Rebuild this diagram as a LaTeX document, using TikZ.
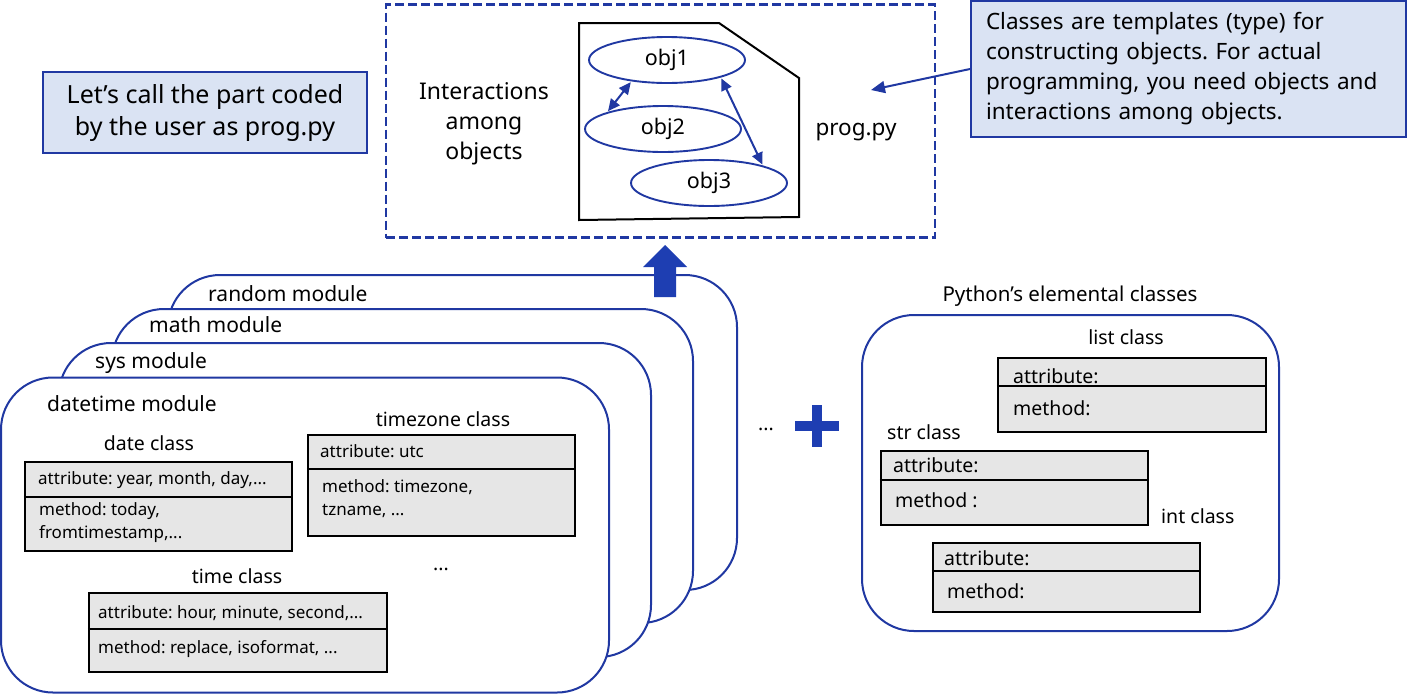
\documentclass[tikz,border=0pt]{standalone}
\usepackage{fontspec}
\setmainfont{Noto Sans}
\usepackage{tikz}
\usetikzlibrary{positioning, shapes, arrows.meta}
\frenchspacing

\definecolor{edgeblue}{RGB}{32,56,162}
\definecolor{fillblue}{RGB}{30,62,178}
\definecolor{noteblue}{RGB}{218,227,243}
\definecolor{classgray}{RGB}{230,230,230}

\begin{document}
\begin{tikzpicture}[x=1pt, y=-1pt, every node/.style={inner sep=0pt},
    modbox/.style={draw=edgeblue, line width=2pt, fill=white, rounded corners=52pt},
    classbox/.style={draw=black, line width=2.5pt, fill=classgray},
    divline/.style={draw=black, line width=1.2pt},
    notebox/.style={draw=edgeblue, line width=2pt, fill=noteblue},
    objnode/.style={draw=edgeblue, line width=1.9pt, ellipse, minimum width=156pt, minimum height=46pt, font=\fontsize{21.5}{25}\selectfont},
    objlink/.style={{Triangle[length=12pt,width=11pt]}-{Triangle[length=12pt,width=11pt]}, draw=edgeblue, fill=edgeblue, line width=2pt, shorten <=1pt, shorten >=1pt},
    modlabel/.style={anchor=base west, font=\fontsize{21}{25}\selectfont},
    clstitle/.style={anchor=base, font=\fontsize{19.5}{23}\selectfont},
    clstext/.style={anchor=base west, font=\fontsize{17}{23}\selectfont},
    elemtext/.style={anchor=base west, font=\fontsize{19.5}{23}\selectfont}]
        \useasboundingbox (0,0) rectangle (1407,694);

        % Top: user program
        \node (Prog) [draw=edgeblue, dashed, dash pattern=on 9pt off 4pt, line width=2.6pt, minimum width=549pt, minimum height=233pt] at (660.5,121) {};
        \draw[black, line width=2pt] (579,23) -- (719,23) -- (799,78) -- (799,217) -- (579,220) -- cycle;
        \node (Inter) [align=center, font=\fontsize{23}{30}\selectfont] at (484,124) {Interactions\\among\\objects};
        \node (Obj1) [objnode] at (667,60) {obj1};
        \node (Obj2) [objnode] at (663,129) {obj2};
        \node (Obj3) [objnode] at (709,183) {obj3};
        \node (ProgName) [anchor=base, font=\fontsize{22.5}{27}\selectfont] at (856,135) {prog.py};
        \draw[objlink] (Obj1.211) -- (Obj2.163);
        \draw[objlink] (Obj1.342) -- (Obj3.18);

        % Notes
        \node (UserNote) [notebox, minimum width=324pt, minimum height=81pt, align=center, font=\fontsize{25}{32}\selectfont] at (205,112.5) {Let’s call the part coded\\by the user as prog.py};
        \node (ClassNote) [notebox, minimum width=435pt, minimum height=136pt, text width=405pt, inner xsep=15pt, align=left, font=\fontsize{22.5}{30}\selectfont] at (1188.5,69) {Classes are templates (type) for\\constructing objects. For actual\\programming, you need objects and\\interactions among objects.};
        \coordinate (NoteEnd) at (871,90);
        \draw[-{Triangle[length=14pt,width=12pt]}, edgeblue, line width=2pt] (ClassNote.west) -- (NoteEnd);

        % Modules (back to front)
        \node (Random) [modbox, minimum width=569pt, minimum height=315pt] at (452.5,432.5) {};
        \node [modlabel] at (208,301) {random module};
        \fill[fillblue] (654,297) -- (654,267) -- (643,267) -- (665,245) -- (687,267) -- (676,267) -- (676,297) -- cycle;
        \node (Math) [modbox, minimum width=581pt, minimum height=314pt] at (402.5,466) {};
        \node [modlabel] at (149,332) {math module};
        \node (Sys) [modbox, minimum width=592pt, minimum height=314pt] at (355,500) {};
        \node [modlabel] at (95,368) {sys module};
        \node (Datetime) [modbox, minimum width=608pt, minimum height=315pt] at (305,535) {};
        \node [modlabel] at (47,411) {datetime module};

        % datetime classes
        \node [clstitle] at (149,450) {date class};
        \node (DateBox) [classbox, minimum width=267pt, minimum height=89pt] at (158.5,506.5) {};
        \draw[divline] (DateBox.west |- 0,497) -- (DateBox.east |- 0,497);
        \node [clstext] at (38,484) {attribute: year, month, day,...};
        \node [clstext] at (39,515) {method: today,};
        \node [clstext] at (39,538) {fromtimestamp,...};

        \node [clstitle] at (443,426) {timezone class};
        \node (TzBox) [classbox, minimum width=267pt, minimum height=101pt] at (441.5,485.5) {};
        \draw[divline] (TzBox.west |- 0,469) -- (TzBox.east |- 0,469);
        \node [clstext] at (320,457) {attribute: utc};
        \node [clstext] at (322,492) {method: timezone,};
        \node [clstext] at (322,515) {tzname, ...};

        \node [clstitle] at (237,583) {time class};
        \node (TimeBox) [classbox, minimum width=298pt, minimum height=79pt] at (238,632.5) {};
        \draw[divline] (TimeBox.west |- 0,629) -- (TimeBox.east |- 0,629);
        \node [clstext] at (98,618) {attribute: hour, minute, second,...};
        \node [clstext] at (98,653) {method: replace, isoformat, ...};
        \node [clstitle] at (441,570) {...};

        % Plus
        \node [clstitle] at (766,430) {...};
        \fill[fillblue] (812,405) rectangle (822,447);
        \fill[fillblue] (795,421) rectangle (839,431);

        % Python's elemental classes
        \node [anchor=base, font=\fontsize{20.5}{25}\selectfont] at (1070,301) {Python’s elemental classes};
        \node (Elem) [modbox, minimum width=417pt, minimum height=316pt] at (1070.5,473) {};

        \node [clstitle] at (1126,344) {list class};
        \node (ListBox) [classbox, minimum width=268pt, minimum height=74pt] at (1132,395) {};
        \draw[divline] (ListBox.west |- 0,386) -- (ListBox.east |- 0,386);
        \node [elemtext] at (1013,383) {attribute:};
        \node [elemtext] at (1013,415) {method:};

        \node [clstitle, anchor=base west] at (887,439) {str class};
        \node (StrBox) [classbox, minimum width=267pt, minimum height=74pt] at (1014.5,488) {};
        \draw[divline] (StrBox.west |- 0,480) -- (StrBox.east |- 0,480);
        \node [elemtext] at (893,472) {attribute:};
        \node [elemtext] at (895,507) {method :};

        \node [clstitle, anchor=base west] at (1161,523) {int class};
        \node (IntBox) [classbox, minimum width=267pt, minimum height=69pt] at (1066.5,577.5) {};
        \draw[divline] (IntBox.west |- 0,571) -- (IntBox.east |- 0,571);
        \node [elemtext] at (944,565) {attribute:};
        \node [elemtext] at (947,598) {method:};
    \end{tikzpicture}
\end{document}
